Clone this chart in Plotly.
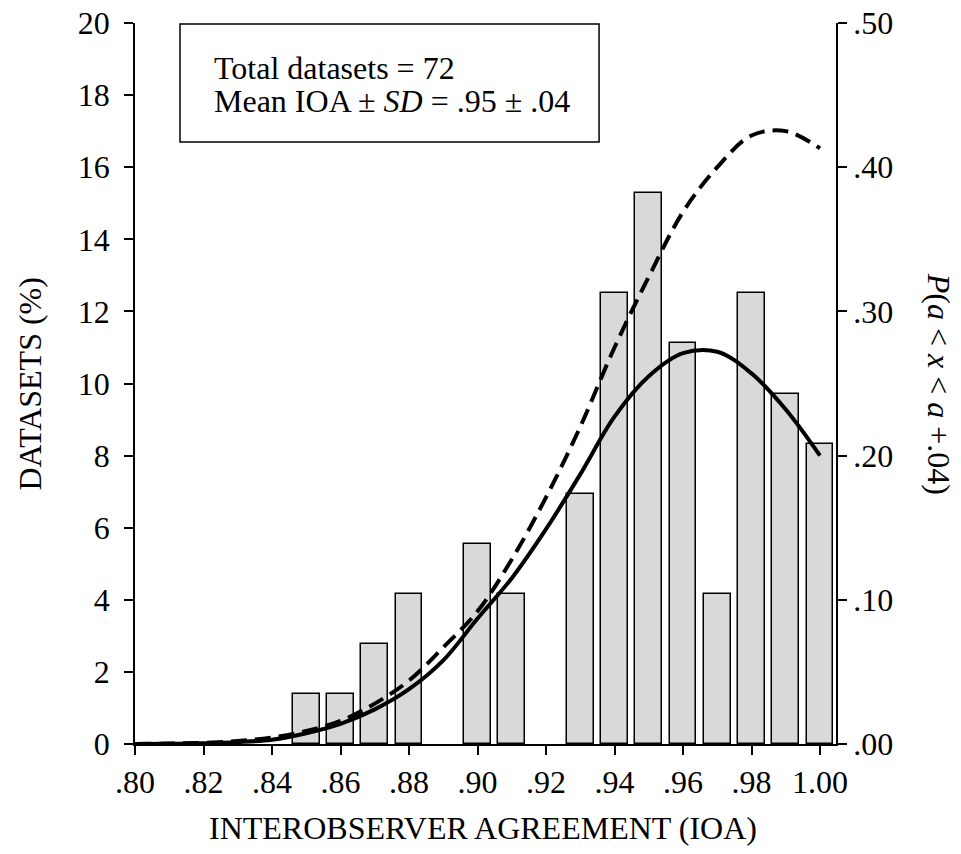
import plotly.graph_objects as go

# ---- data ----
bin_centers = [0.85, 0.86, 0.87, 0.88, 0.89, 0.90, 0.91, 0.92,
               0.93, 0.94, 0.95, 0.96, 0.97, 0.98, 0.99, 1.00]
datasets_pct = [1.39, 1.39, 2.78, 4.17, 0.0, 5.56, 4.17, 0.0,
                6.94, 12.50, 15.28, 11.11, 4.17, 12.50, 9.72, 8.33]

curve_x = [0.80, 0.81, 0.82, 0.83, 0.84, 0.85, 0.86, 0.87, 0.88, 0.89, 0.90,
           0.91, 0.92, 0.93, 0.94, 0.95, 0.96, 0.97, 0.98, 0.99, 1.00]
p_solid = [0.000, 0.0002, 0.0005, 0.0013, 0.003, 0.0075, 0.014, 0.024, 0.038, 0.058, 0.087,
           0.115, 0.149, 0.187, 0.227, 0.255, 0.271, 0.272, 0.257, 0.232, 0.200]
p_dashed = [0.000, 0.0003, 0.0008, 0.002, 0.0045, 0.009, 0.016, 0.028, 0.044, 0.067, 0.092,
            0.128, 0.171, 0.220, 0.275, 0.324, 0.369, 0.400, 0.422, 0.425, 0.413]

left_ticks = [0, 2, 4, 6, 8, 10, 12, 14, 16, 18, 20]
left_labels = ["0", "2", "4", "6", "8", "10", "12", "14", "16", "18", "20"]
right_ticks = [0.0, 0.1, 0.2, 0.3, 0.4, 0.5]
right_labels = [".00", ".10", ".20", ".30", ".40", ".50"]
x_ticks = [0.80, 0.82, 0.84, 0.86, 0.88, 0.90, 0.92, 0.94, 0.96, 0.98, 1.00]
x_labels = [".80", ".82", ".84", ".86", ".88", ".90", ".92", ".94", ".96", ".98", "1.00"]

FONT = "Liberation Serif"
FS = 32

# empty bins get no bar at all
bar_y = [v if v > 0 else None for v in datasets_pct]

fig = go.Figure()
fig.add_trace(go.Bar(
    x=bin_centers, y=bar_y, width=0.0078,
    marker=dict(color="#d9d9d9", line=dict(color="black", width=1.5)),
    yaxis="y", showlegend=False,
))
fig.add_trace(go.Scatter(
    x=curve_x, y=p_solid, mode="lines", yaxis="y2",
    line=dict(color="black", width=4, shape="spline", smoothing=1.0),
    showlegend=False,
))
fig.add_trace(go.Scatter(
    x=curve_x, y=p_dashed, mode="lines", yaxis="y2",
    line=dict(color="black", width=4, dash="16px,8px", shape="spline", smoothing=1.0),
    showlegend=False,
))

axis_common = dict(
    showline=True, linecolor="black", linewidth=1.5,
    ticks="outside", ticklen=9, tickwidth=1.5, tickcolor="black",
    showgrid=False, zeroline=False,
    tickfont=dict(family=FONT, size=FS, color="black"),
)

txt_font = dict(family=FONT, size=FS, color="black")

fig.update_layout(
    width=961, height=854,
    margin=dict(l=135, r=125, t=23, b=110, autoexpand=False),
    paper_bgcolor="white", plot_bgcolor="white",
    font=txt_font,
    bargap=0,
    xaxis=dict(range=[0.80, 1.00467], tickmode="array", tickvals=x_ticks,
               ticktext=x_labels, **axis_common),
    yaxis=dict(range=[0, 20], tickmode="array", tickvals=left_ticks,
               ticktext=left_labels, ticklabelstandoff=8, **axis_common),
    yaxis2=dict(range=[0, 0.5], overlaying="y", side="right", anchor="x",
                tickmode="array", tickvals=right_ticks, ticktext=right_labels,
                **axis_common),
    shapes=[dict(type="rect", xref="paper", yref="paper",
                 x0=0.0642, x1=0.662, y0=0.835, y1=0.9986,
                 line=dict(color="black", width=1.5), fillcolor="white", layer="above")],
    annotations=[
        dict(text="Total datasets = 72", xref="paper", yref="paper",
             x=0.1098, y=0.9376, xanchor="left", yanchor="middle", showarrow=False,
             font=txt_font),
        dict(text="Mean IOA ± <i>SD</i> = .95 ± .04", xref="paper", yref="paper",
             x=0.1098, y=0.8918, xanchor="left", yanchor="middle", showarrow=False,
             font=txt_font),
        dict(text="DATASETS (%)", xref="paper", yref="paper",
             x=-0.1498, y=0.5, xanchor="center", yanchor="middle", textangle=-90,
             showarrow=False, font=txt_font),
        dict(text="INTEROBSERVER AGREEMENT (IOA)", xref="paper", yref="paper",
             x=0.4964, y=-0.1165, xanchor="center", yanchor="middle",
             showarrow=False, font=txt_font),
        dict(text="<i>P</i>(<i>a</i> &lt; <i>x</i> &lt; <i>a</i> +.04)", xref="paper", yref="paper",
             x=1.148, y=0.5, xanchor="center", yanchor="middle", textangle=90,
             showarrow=False, font=txt_font),
    ],
)

fig.write_html("out.html")
